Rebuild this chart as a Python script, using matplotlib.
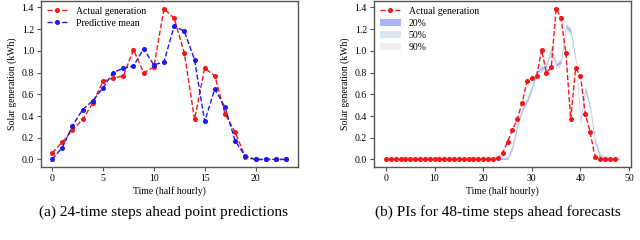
import matplotlib
matplotlib.use("Agg")
from matplotlib import pyplot as plt
from matplotlib.patches import Patch
from matplotlib.lines import Line2D
import numpy as np

plt.rcParams['font.family'] = ['Liberation Serif', 'DejaVu Serif']
plt.rcParams['font.size'] = 7

# (a) 24 steps ahead
steps24 = list(range(24))
actual24 = [0.06, 0.16, 0.27, 0.37, 0.52, 0.72, 0.75, 0.77, 1.01, 0.80, 0.85, 1.39,
            1.30, 0.98, 0.37, 0.84, 0.77, 0.42, 0.25, 0.02, 0.0, 0.0, 0.0, 0.0]
mean24 = [0.0, 0.11, 0.31, 0.46, 0.54, 0.66, 0.80, 0.84, 0.86, 1.02, 0.87, 0.90,
          1.23, 1.18, 0.92, 0.35, 0.65, 0.48, 0.17, 0.03, 0.0, 0.0, 0.0, 0.0]

# (b) 48 steps ahead
steps48 = list(range(48))
actual48 = [0.0] * 23 + [0.01, 0.06, 0.16, 0.27, 0.37, 0.52, 0.72, 0.75, 0.77, 1.01,
                         0.80, 0.85, 1.39, 1.30, 0.98, 0.37, 0.84, 0.77, 0.42, 0.25,
                         0.02, 0.0, 0.0, 0.0, 0.0]
band_x = list(range(49))
band_mean = [0.0] * 25 + mean24
levels = ["20%", "50%", "90%"]
half_width = [0.012, 0.025, 0.04]
band_colors = ["#a9b4f2", "#d6e6f4", "#efefef"]

red = "#f01818"
blue = "#1a1aee"
frame = "#555555"

fig = plt.figure(figsize=(6.4, 2.4), dpi=100)
ax1 = fig.add_axes([0.064, 0.304, 0.402, 0.692])
ax2 = fig.add_axes([0.584, 0.304, 0.402, 0.692])

ax1.plot(steps24, actual24, "--o", color=red, lw=1, ms=2.6, label="Actual generation")
ax1.plot(steps24, mean24, "--o", color=blue, lw=1, ms=2.6, label="Predictive mean")
ax1.set_xlim(-1.1, 24.2)
ax1.set_xticks([0, 5, 10, 15, 20])
ax1.legend(loc="upper left", frameon=False, handlelength=2.2, borderaxespad=0.2,
           labelspacing=0.3, fontsize=7)

bm = np.array(band_mean)
for lev, hw, c in reversed(list(zip(levels, half_width, band_colors))):
    ax2.fill_between(band_x, np.clip(bm - hw, 0, None), bm + hw, color=c, lw=0)
ax2.plot(steps48, actual48, "--o", color=red, lw=1, ms=2.6, zorder=5)
ax2.set_xlim(-2.5, 50.4)
ax2.set_xticks([0, 10, 20, 30, 40, 50])
handles = [Line2D([], [], ls="--", marker="o", color=red, lw=1, ms=2.6)]
handles += [Patch(color=c, lw=0) for c in band_colors]
ax2.legend(handles, ["Actual generation"] + levels, loc="upper left", frameon=False,
           handlelength=2.2, borderaxespad=0.2, labelspacing=0.3, fontsize=7)

for ax in (ax1, ax2):
    ax.set_ylim(-0.07, 1.46)
    ax.set_yticks(np.arange(0, 1.41, 0.2))
    ax.set_yticklabels(["%.1f" % v for v in np.arange(0, 1.41, 0.2)])
    ax.set_xlabel("Time (half hourly)", labelpad=2)
    ax.set_ylabel("Solar generation (kWh)", labelpad=3)
    for s in ax.spines.values():
        s.set_color(frame)
        s.set_linewidth(1)
    ax.tick_params(direction="out", length=3, width=0.8, color=frame, pad=2)

fig.text(0.256, 0.117, "(a) 24-time steps ahead point predictions", ha="center",
         va="center", fontsize=11)
fig.text(0.778, 0.117, "(b) PIs for 48-time steps ahead forecasts", ha="center",
         va="center", fontsize=11)

fig.savefig("out.png", dpi=100)
